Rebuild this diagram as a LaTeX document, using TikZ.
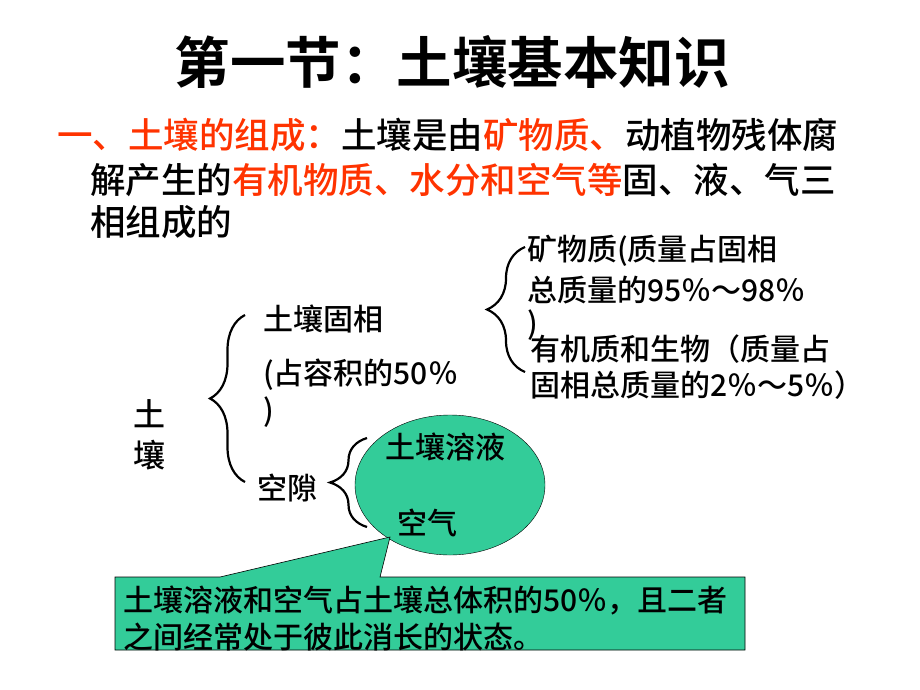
\documentclass[tikz,border=0pt]{standalone}
\usepackage{fontspec}
\setmainfont{Noto Sans CJK SC Medium}[BoldFont=Noto Sans CJK SC Bold]
\usepackage{tikz}
\usetikzlibrary{shapes.geometric,decorations.pathreplacing}
\definecolor{Hot}{RGB}{255,51,0}
\definecolor{Pool}{RGB}{51,204,153}
\newcommand{\drawbrace}[1]{\draw[line width=2.2pt,decorate,decoration={brace,amplitude=#1}]}
\newcommand{\hot}[1]{\textcolor{Hot}{#1}}
\tikzset{
  txt/.style={anchor=west,inner sep=0pt,font=\fontsize{30}{30}\selectfont},
  big/.style={anchor=west,inner sep=0pt,font=\fontsize{35.5}{36}\selectfont}
}

\begin{document}
\begin{tikzpicture}[x=1pt,y=-1pt]
\useasboundingbox (0,0) rectangle (920,690);
\node[inner sep=0pt,font=\fontsize{55.5}{56}\selectfont\bfseries] (title) at (452,62) {第一节：土壤基本知识};
\node[big] (intro1) at (57,135) {\hot{一、土壤的组成：}土壤是由\hot{矿物质、}动植物残体腐};
\node[big] (intro2) at (90,180) {解产生的\hot{有机物质、水分和空气等}固、液、气三};
\node[big] (intro3) at (90,222) {相组成的};
% soil and its two phases
\node[txt,font=\fontsize{32}{32}\selectfont] (soil1) at (133,414) {土};
\node[txt,font=\fontsize{32}{32}\selectfont] (soil2) at (133,455) {壤};
\node[txt] (solid) at (263,319) {土壤固相};
\node[txt] (solidpct) at (263,375) {(占容积的50％};
\node[txt] (solidend) at (263,412) {)};
\node[txt] (pore) at (257,488) {空隙};
\node[txt] (mineral1) at (527,251) {矿物质(质量占固相};
\node[txt] (mineral2) at (527,290) {总质量的95％～98％};
\node[txt] (mineral3) at (527,325) {)};
\node[txt] (organic1) at (530,349) {有机质和生物（质量占};
\node[txt] (organic2) at (530,385) {固相总质量的2％～5％）};
% pore space
\node[draw,ellipse,fill=Pool,minimum width=190,minimum height=140,inner sep=0pt] (pocket) at (450,485) {};
\node[txt] (liquid) at (385,447) {土壤溶液};
\node[txt] (air) at (397,523) {空气};
\coordinate (tip) at (390,537);
\filldraw[fill=Pool,draw=black,line width=0.6pt] (115,577) -- (220,577) -- (tip) -- (380,577) -- (745,577) -- (745,650) -- (115,650) -- cycle;
\node[txt] (note1) at (123,600) {土壤溶液和空气占土壤总体积的50％，且二者};
\node[txt] (note2) at (123,637) {之间经常处于彼此消长的状态。};
% braces
\coordinate (bigtop) at (245,315);
\coordinate (bigbot) at (245,482);
\coordinate (mintop) at (525,247);
\coordinate (minbot) at (525,372);
\coordinate (poretop) at (367,438);
\coordinate (porebot) at (367,527);
\drawbrace{35pt} (bigbot) -- (bigtop);
\drawbrace{38pt} (minbot) -- (mintop);
\drawbrace{37pt} (porebot) -- (poretop);
\end{tikzpicture}
\end{document}
